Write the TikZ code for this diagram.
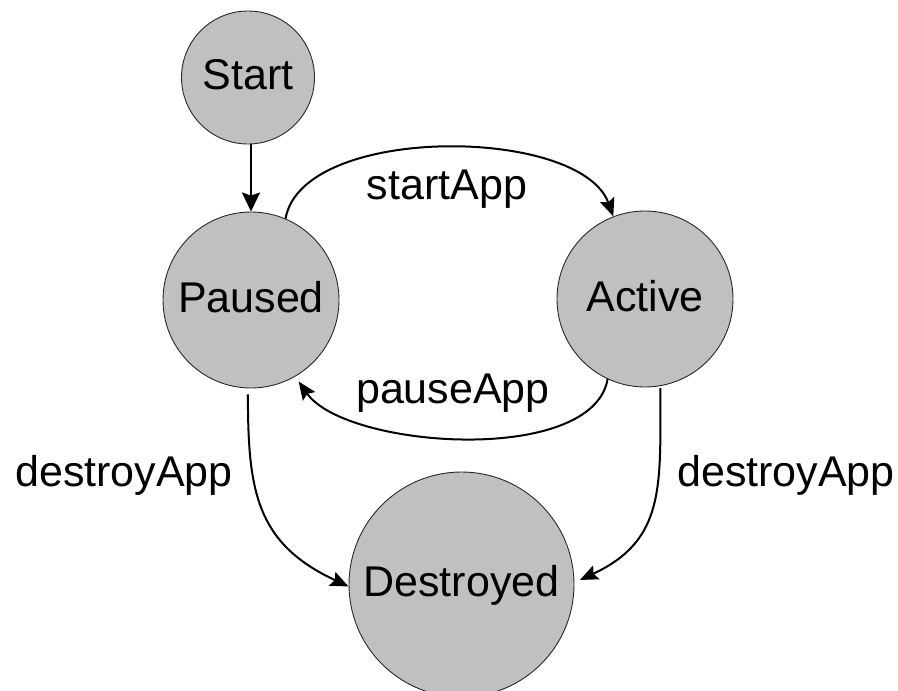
\documentclass[tikz,border=0pt]{standalone}
\usepackage{fontspec}
\setmainfont{Liberation Sans}
\usetikzlibrary{arrows.meta}
\definecolor{statefill}{RGB}{192,192,192}
\definecolor{stateline}{RGB}{40,40,40}
\begin{document}
\begin{tikzpicture}[x=1pt,y=-1pt,
  state/.style={circle, draw=stateline, line width=0.9pt, fill=statefill, inner sep=0pt,
                text height=32pt, text depth=8pt, font=\fontsize{43}{50}\selectfont},
  trans/.style={line width=2pt, -{Stealth[length=18pt,width=15pt,inset=3pt]}},
  lbl/.style={anchor=base, inner sep=0pt, font=\fontsize{43}{50}\selectfont}]
\useasboundingbox (0,0) rectangle (898,691);

\node[state, minimum size=133pt] (start) at (248,77.5) {Start};
\node[state, minimum size=176pt] (paused) at (251,300) {Paused};
\node[state, minimum size=176pt] (active) at (645,299) {Active};
\node[state, minimum size=225pt] (destroyed) at (461.5,584.5) {Destroyed};

\draw[line width=2pt, -{Stealth[length=19pt,width=18pt,inset=3pt]}]
  (start.south -| paused.north) -- (paused.north);
\draw[trans] (paused.67) to[out=80,in=110,looseness=0.75] (active.111);
\draw[trans, shorten >=6pt] (active.245) to[out=-100,in=-55,looseness=0.72] (paused.-60);
\draw[trans, shorten <=6pt] (paused.-92) to[out=-90,in=155,looseness=1.18] (destroyed.181);
\draw[trans, shorten <=2pt, shorten >=6pt] (active.-80) to[out=-90,in=25,looseness=1.2] (destroyed.1);

\node[lbl] (lstart) at (447,199) {startApp};
\node[lbl] (lpause) at (453,403) {pauseApp};
\node[lbl] (ldl) at (124,486) {destroyApp};
\node[lbl] (ldr) at (786,486) {destroyApp};
\end{tikzpicture}
\end{document}
